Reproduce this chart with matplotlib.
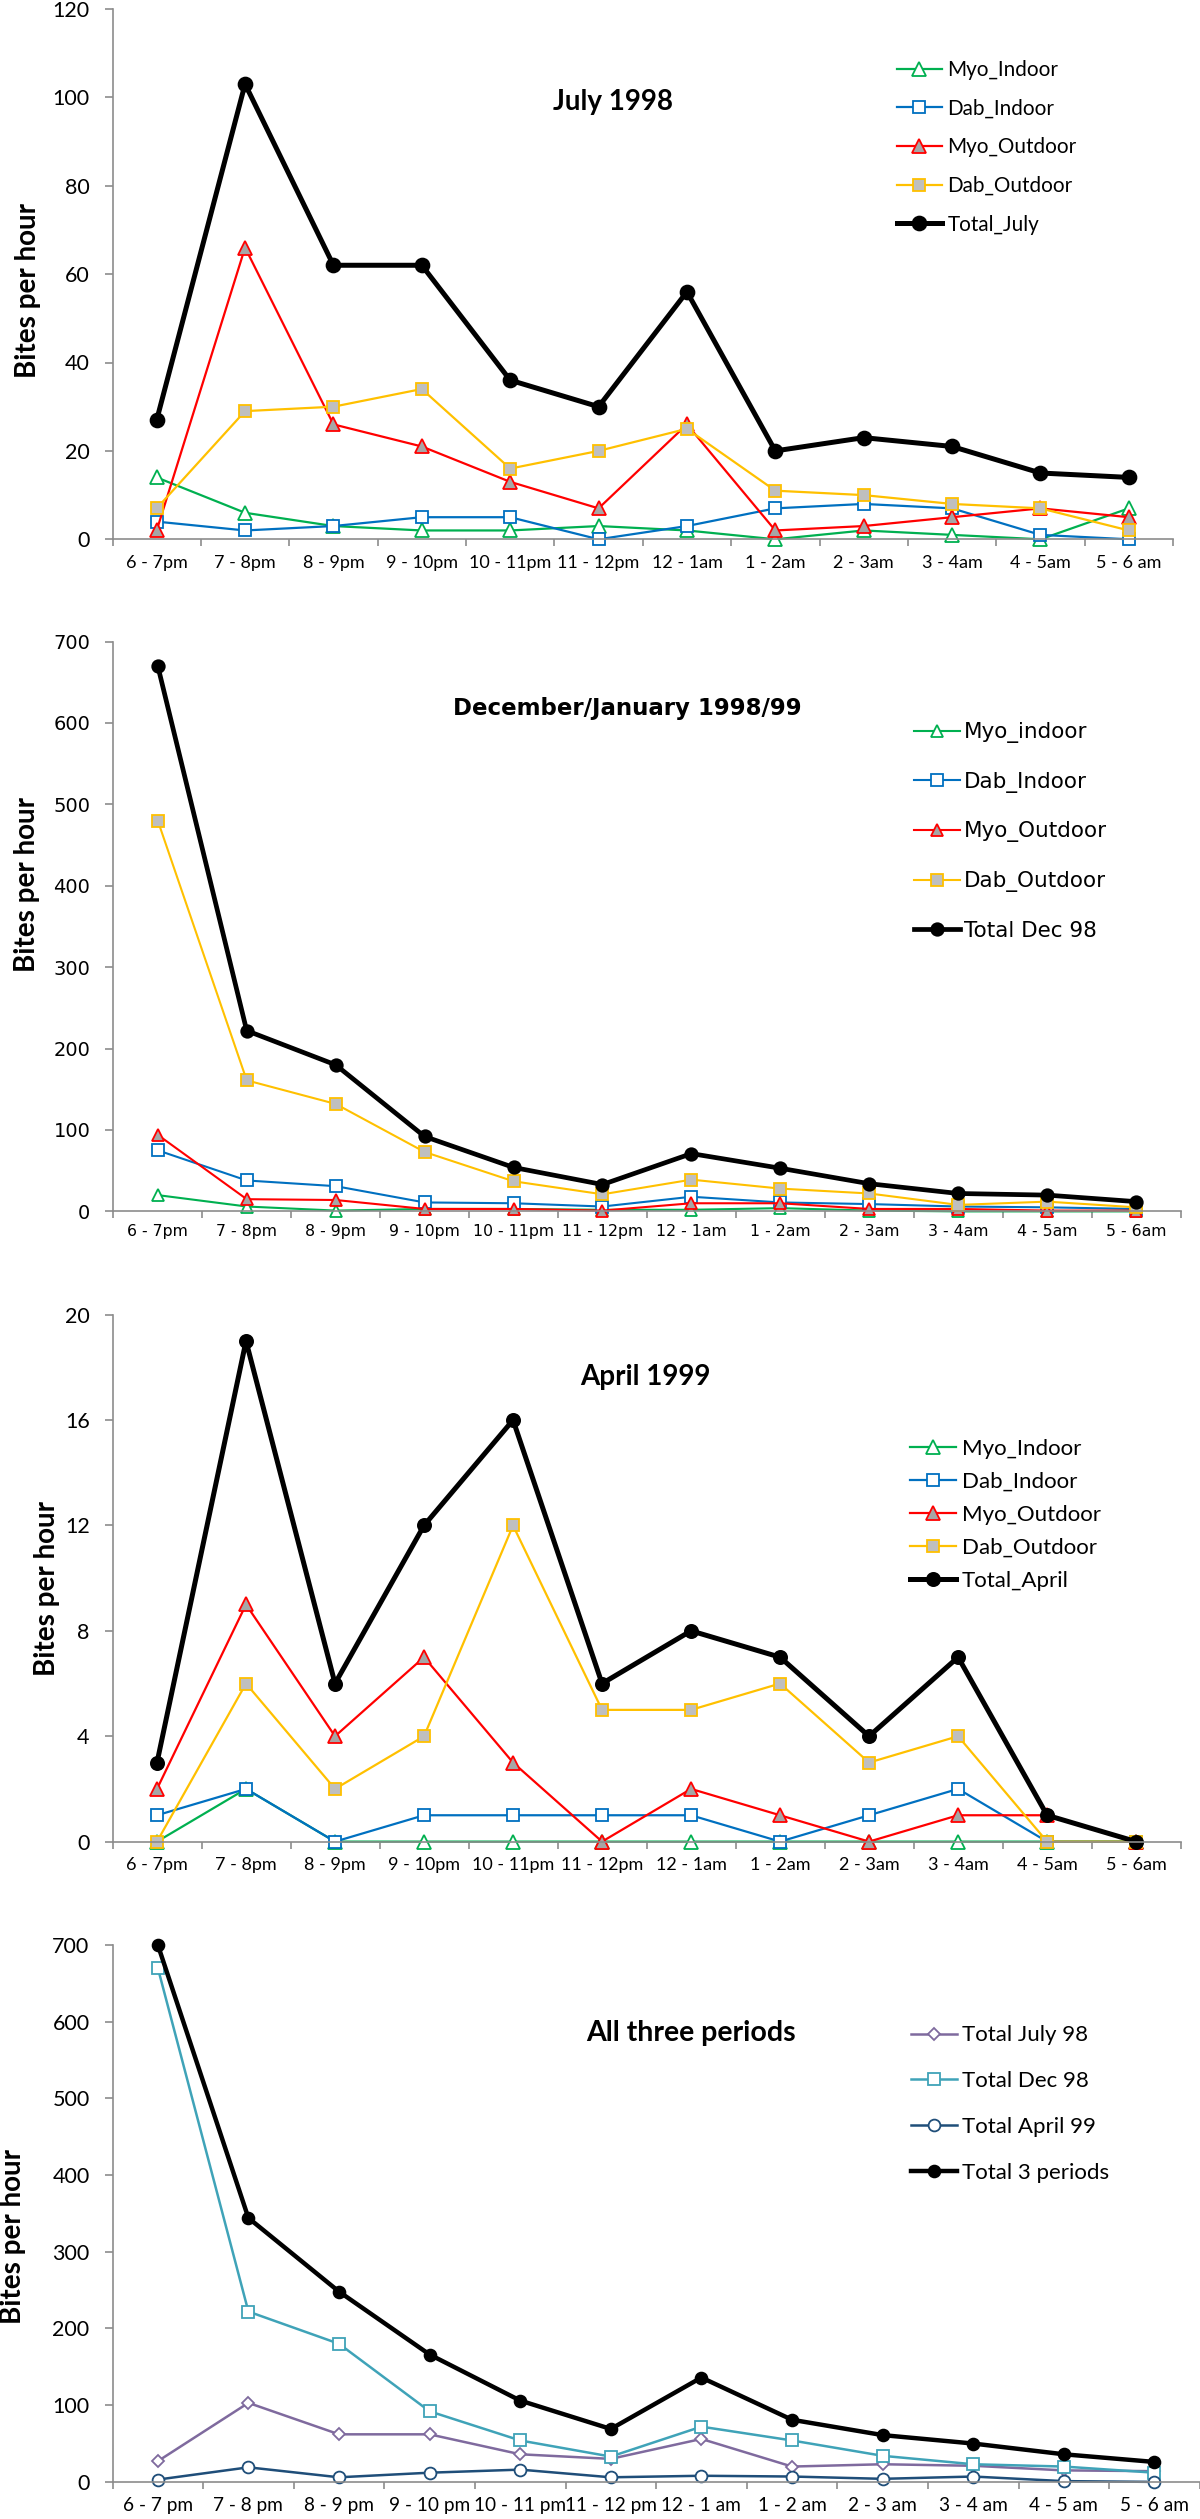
import matplotlib
matplotlib.use("Agg")
import matplotlib.pyplot as plt
import numpy as np

W, H = 1200, 2519

# category labels (three spellings used in the four panels)
hours_a = ["6 - 7pm", "7 - 8pm", "8 - 9pm", "9 - 10pm", "10 - 11pm", "11 - 12pm",
           "12 - 1am", "1 - 2am", "2 - 3am", "3 - 4am", "4 - 5am", "5 - 6 am"]
hours_b = ["6 - 7pm", "7 - 8pm", "8 - 9pm", "9 - 10pm", "10 - 11pm", "11 - 12pm",
           "12 - 1am", "1 - 2am", "2 - 3am", "3 - 4am", "4 - 5am", "5 - 6am"]
hours_c = ["6 - 7 pm", "7 - 8 pm", "8 - 9 pm", "9 - 10 pm", "10 - 11 pm", "11 - 12 pm",
           "12 - 1 am", "1 - 2 am", "2 - 3 am", "3 - 4 am", "4 - 5 am", "5 - 6 am"]

# July 1998
jul_myo_in = [14, 6, 3, 2, 2, 3, 2, 0, 2, 1, 0, 7]
jul_dab_in = [4, 2, 3, 5, 5, 0, 3, 7, 8, 7, 1, 0]
jul_myo_out = [2, 66, 26, 21, 13, 7, 26, 2, 3, 5, 7, 5]
jul_dab_out = [7, 29, 30, 34, 16, 20, 25, 11, 10, 8, 7, 2]
jul_total = [27, 103, 62, 62, 36, 30, 56, 20, 23, 21, 15, 14]

# December/January 1998/99
dec_myo_in = [20, 6, 1, 3, 3, 2, 2, 4, 1, 0, 0, 0]
dec_dab_in = [75, 38, 31, 11, 10, 6, 18, 11, 9, 6, 5, 3]
dec_myo_out = [94, 15, 14, 3, 3, 1, 10, 10, 3, 3, 1, 1]
dec_dab_out = [480, 161, 132, 73, 37, 21, 39, 28, 22, 8, 12, 5]
dec_total = [670, 222, 180, 92, 54, 33, 71, 53, 34, 22, 20, 12]

# April 1999
apr_myo_in = [0, 2, 0, 0, 0, 0, 0, 0, 0, 0, 0, 0]
apr_dab_in = [1, 2, 0, 1, 1, 1, 1, 0, 1, 2, 0, 0]
apr_myo_out = [2, 9, 4, 7, 3, 0, 2, 1, 0, 1, 1, 0]
apr_dab_out = [0, 6, 2, 4, 12, 5, 5, 6, 3, 4, 0, 0]
apr_total = [3, 19, 6, 12, 16, 6, 8, 7, 4, 7, 1, 0]

# all three periods
all_jul = [27, 103, 62, 62, 36, 30, 56, 20, 23, 21, 15, 14]
all_dec = [670, 222, 180, 92, 54, 33, 72, 54, 34, 23, 20, 12]
all_apr = [3, 19, 6, 12, 16, 6, 8, 7, 4, 7, 1, 0]
all_total = [700, 344, 248, 166, 106, 69, 136, 81, 61, 50, 36, 26]

GREEN, BLUE, RED, YELLOW = "#00B050", "#0070C0", "#FF0000", "#FFC000"
GREY = "#BFBFBF"
PURPLE, TEAL, NAVY = "#7F6A9E", "#3FA3B8", "#1F4E79"
AXIS = "#8C8C8C"
CAL = "Lato"
VER = "DejaVu Sans"


def px_axes(fig, left, top, right, bottom):
    return fig.add_axes([left / W, 1 - bottom / H, (right - left) / W, (bottom - top) / H])


def style_axes(ax, labels, ymax, ystep, font, ysize, xsize, xpad):
    ax.set_xlim(-0.5, len(labels) - 0.5)
    ax.set_ylim(0, ymax)
    ax.set_yticks(np.arange(0, ymax + 1, ystep))
    ax.set_xticks(range(len(labels)))
    ax.set_xticklabels(labels)
    ax.set_xticks(np.arange(-0.5, len(labels), 1), minor=True)
    for s in ["top", "right"]:
        ax.spines[s].set_visible(False)
    for s in ["left", "bottom"]:
        ax.spines[s].set_color(AXIS)
        ax.spines[s].set_linewidth(1.2)
    ax.tick_params(axis="x", which="major", length=0, pad=xpad)
    ax.tick_params(axis="x", which="minor", length=5, width=1.2, color=AXIS, direction="out")
    ax.tick_params(axis="y", which="major", length=5.5, width=1.2, color=AXIS, pad=11)
    for t in ax.get_xticklabels():
        t.set_fontfamily(font)
        t.set_fontsize(xsize)
    for t in ax.get_yticklabels():
        t.set_fontfamily(font)
        t.set_fontsize(ysize)


def series(ax, y, color, marker, face, ms, lw, label):
    ax.plot(range(len(y)), y, color=color, lw=lw, marker=marker, ms=ms,
            mfc=face, mec=color, mew=1.3, label=label, clip_on=False)


def legend(ax, font, size, x, yc, spacing, hlen, pad):
    lg = ax.legend(loc="center left", bbox_to_anchor=(x / W, 1 - yc / H),
                   bbox_transform=ax.figure.transFigure, frameon=False,
                   prop={"family": font, "size": size}, labelspacing=spacing,
                   handlelength=hlen, handletextpad=pad, borderpad=0, borderaxespad=0)
    return lg


def texts(fig, title, tx, ty, tfont, tsize, lx, ly):
    fig.text(tx / W, 1 - ty / H, title, ha="center", va="center",
             family=tfont, weight="bold", size=tsize)
    fig.text(lx / W, 1 - ly / H, "Bites per hour", ha="center", va="center",
             rotation=90, family=CAL, weight="bold", size=20)


fig = plt.figure(figsize=(W / 100, H / 100), dpi=100)

# panel 1 - July 1998
ax1 = px_axes(fig, 112.5, 8.9, 1173, 539.3)
series(ax1, jul_myo_in, GREEN, "^", "white", 9.5, 1.6, "Myo_Indoor")
series(ax1, jul_dab_in, BLUE, "s", "white", 8.6, 1.6, "Dab_Indoor")
series(ax1, jul_myo_out, RED, "^", "#A6A6A6", 9.5, 1.6, "Myo_Outdoor")
series(ax1, jul_dab_out, YELLOW, "s", GREY, 8.6, 1.6, "Dab_Outdoor")
series(ax1, jul_total, "black", "o", "black", 10, 3.6, "Total_July")
style_axes(ax1, hours_a, 120, 20, CAL, 15.5, 13, 11)
legend(ax1, CAL, 14.9, 896.6, 147.3, 0.9, 2.18, 0.28)
texts(fig, "July 1998", 613, 102, CAL, 20, 27.7, 290)

# panel 2 - December/January 1998/99
ax2 = px_axes(fig, 113.3, 641.5, 1180.6, 1211.4)
series(ax2, dec_myo_in, GREEN, "^", "white", 9, 1.5, "Myo_indoor")
series(ax2, dec_dab_in, BLUE, "s", "white", 8.6, 1.5, "Dab_Indoor")
series(ax2, dec_myo_out, RED, "^", "#A6A6A6", 9, 1.5, "Myo_Outdoor")
series(ax2, dec_dab_out, YELLOW, "s", GREY, 8.6, 1.5, "Dab_Outdoor")
series(ax2, dec_total, "black", "o", "black", 9, 3.4, "Total Dec 98")
style_axes(ax2, hours_b, 700, 100, VER, 14, 11.3, 9)
legend(ax2, VER, 15.5, 913.8, 831.5, 1.33, 2.14, 0.2)
texts(fig, "December/January 1998/99", 627, 708, VER, 16.5, 27, 885)

# panel 3 - April 1999
ax3 = px_axes(fig, 112.5, 1314.7, 1180.6, 1841.6)
series(ax3, apr_myo_in, GREEN, "^", "white", 9.5, 1.6, "Myo_Indoor")
series(ax3, apr_dab_in, BLUE, "s", "white", 8.8, 1.6, "Dab_Indoor")
series(ax3, apr_myo_out, RED, "^", "#A6A6A6", 9.5, 1.6, "Myo_Outdoor")
series(ax3, apr_dab_out, YELLOW, "s", GREY, 8.8, 1.6, "Dab_Outdoor")
series(ax3, apr_total, "black", "o", "black", 9.5, 3.6, "Total_April")
style_axes(ax3, hours_b, 20, 4, CAL, 15.5, 13, 11)
legend(ax3, CAL, 16, 910, 1515, 0.58, 2.07, 0.25)
texts(fig, "April 1999", 645, 1377, CAL, 20, 47, 1589)

# panel 4 - all three periods
ax4 = px_axes(fig, 112.5, 1944.8, 1199.7, 2481.9)
series(ax4, all_jul, PURPLE, "D", "white", 6.2, 1.8, "Total July 98")
series(ax4, all_dec, TEAL, "s", "white", 8.8, 1.8, "Total Dec 98")
series(ax4, all_apr, NAVY, "o", "white", 8.5, 1.8, "Total April 99")
series(ax4, all_total, "black", "o", "black", 8.5, 3.2, "Total 3 periods")
style_axes(ax4, hours_c, 700, 100, CAL, 15.5, 13.7, 11)
legend(ax4, CAL, 16, 910.8, 2104, 1.16, 2.07, 0.24)
texts(fig, "All three periods", 691, 2033, CAL, 20.5, 12.6, 2236)

fig.savefig("out.png", dpi=100)
